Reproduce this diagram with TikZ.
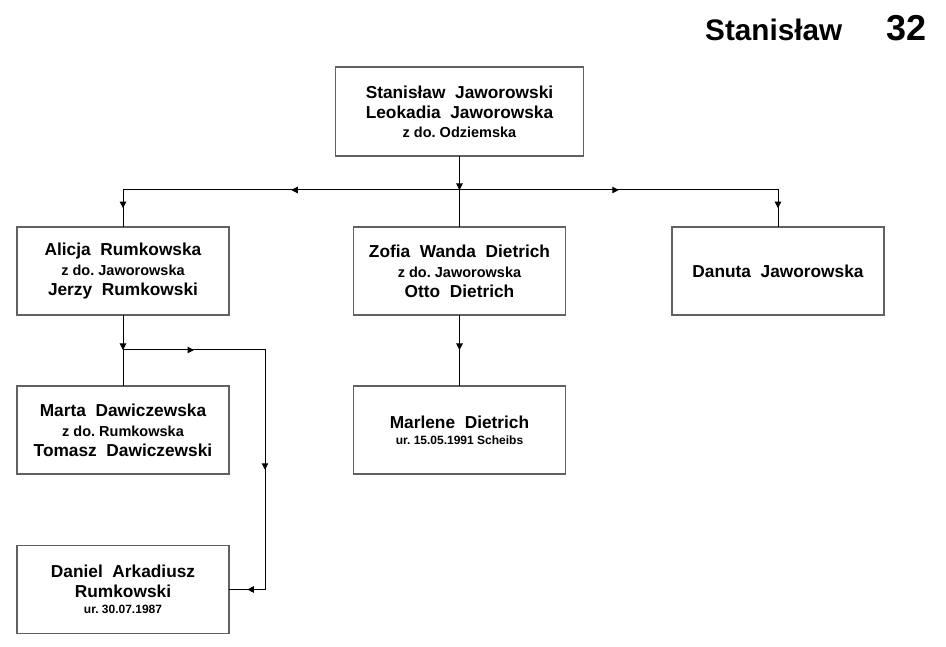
\documentclass[tikz,border=0pt]{standalone}
\usepackage{fontspec}
\setmainfont{Liberation Sans}
\usetikzlibrary{arrows.meta,decorations.markings}
\frenchspacing
\newcommand{\maidenname}[1]{{\fontsize{14.5}{20}\selectfont z do. #1}}
\newcommand{\birthline}[1]{{\fontsize{12}{16}\selectfont ur. #1}}
\newcommand{\linkmid}[2]{%
	\draw [link, postaction={decorate}] (#1) -- (#2);
}
\newcommand{\linkend}[2]{%
	\draw [link, -{Triangle[length=6.5pt,width=6.5pt]}] (#1) -- (#2);
}
\definecolor{boxgray}{rgb}{0.38,0.38,0.38}

\begin{document}
\begin{tikzpicture}[x=1pt, y=-1pt,
	person/.style={draw=boxgray, line width=1.4pt, minimum width=212pt, minimum height=88pt,
		align=center, inner sep=0pt, font=\bfseries\fontsize{17.3}{20}\selectfont},
	link/.style={draw=black, line width=1pt, line cap=rect,
		decoration={markings, mark=at position 0.5 with {\arrow{Triangle[length=6.5pt,width=6.5pt]}}}},
	title/.style={inner sep=0pt, font=\bfseries\fontsize{29.7}{34}\selectfont}
	]
	
	\useasboundingbox (0,0) rectangle (946,647);
	
	\node [title, anchor=base west] (name) at (705,41) {Stanisław};
	\node [title, anchor=base east, font=\bfseries\fontsize{36}{40}\selectfont] (number) at (927,41) {32};
	
	% parents
	\node [person, minimum width=248pt, minimum height=89pt] (top) at (459.5,111.5)
		{Stanisław~~Jaworowski\\ Leokadia~~Jaworowska\\[-1pt] \maidenname{Odziemska}};
	
	% children
	\node [person] (alicja) at (123,271)
		{Alicja~~Rumkowska\\ \maidenname{Jaworowska}\\ Jerzy~~Rumkowski};
	\node [person] (zofia) at (459.5,271)
		{Zofia~~Wanda~~Dietrich\\ \maidenname{Jaworowska}\\ Otto~~Dietrich};
	\node [person] (danuta) at (778,271) {Danuta~~Jaworowska};
	
	% grandchildren
	\node [person] (marta) at (123,430)
		{Marta~~Dawiczewska\\ \maidenname{Rumkowska}\\ Tomasz~~Dawiczewski};
	\node [person] (marlene) at (459.5,430)
		{Marlene~~Dietrich\\[-4pt] \birthline{15.05.1991 Scheibs}};
	\node [person] (daniel) at (123,589.5)
		{Daniel~~Arkadiusz\\ Rumkowski\\[-4pt] \birthline{30.07.1987}};
	
	\coordinate (jtop) at (459.5,190);
	\coordinate (jleft) at (alicja.north |- jtop);
	\coordinate (jright) at (danuta.north |- jtop);
	\coordinate (jalicja) at (123,350);
	\coordinate (jturn) at (265,350);
	\coordinate (jdown) at (jturn |- daniel.east);
	\coordinate (jzofia) at (459.5,350);
	
	\linkend{top.south}{jtop}
	\linkmid{jtop}{jleft}
	\linkmid{jleft}{alicja.north}
	\linkmid{jtop}{jright}
	\linkmid{jright}{danuta.north}
	\draw [link] (jtop) -- (zofia.north);
	
	\linkend{alicja.south}{jalicja}
	\draw [link] (jalicja) -- (marta.north);
	\linkmid{jalicja}{jturn}
	\linkmid{jturn}{jdown}
	\linkmid{jdown}{daniel.east}
	
	\linkend{zofia.south}{jzofia}
	\draw [link] (jzofia) -- (marlene.north);

\end{tikzpicture}
\end{document}
